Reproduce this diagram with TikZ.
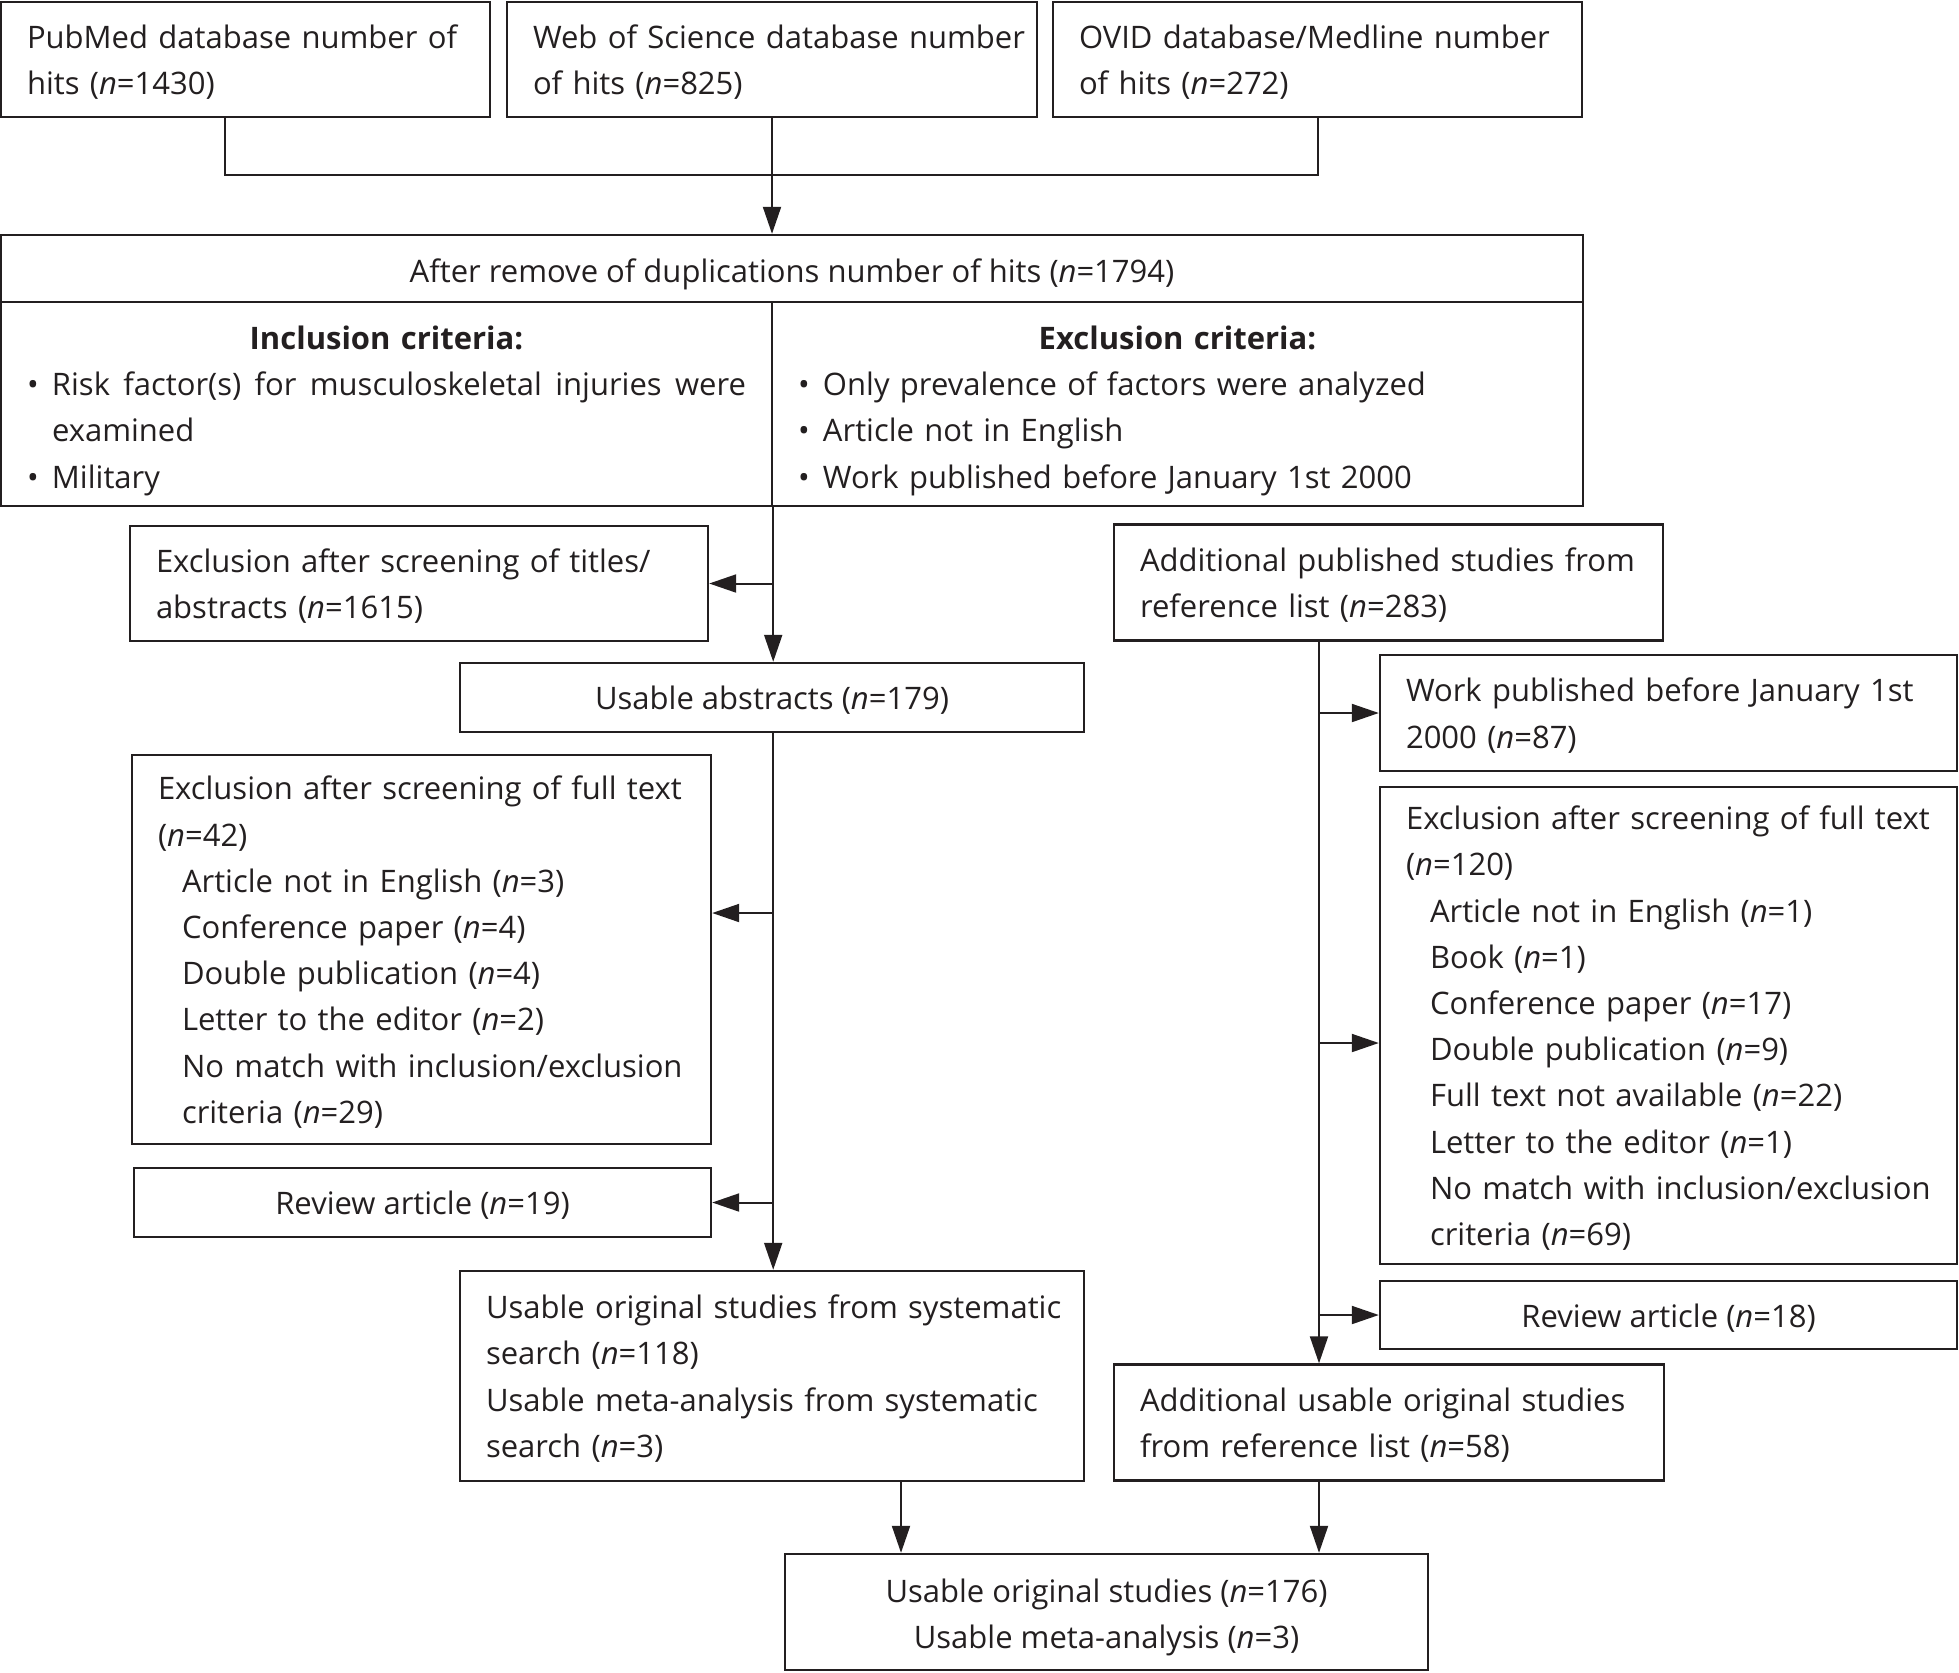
\documentclass[tikz,border=0pt]{standalone}
\usepackage{fontspec}
\setmainfont{Open Sans}
\usetikzlibrary{arrows.meta}
\definecolor{ink}{HTML}{231F20}
\newcommand\nn{\textit{n}}
\newcommand\bul{\makebox[12.5pt][l]{\textbullet}}
\newcommand\ind{\hspace*{12pt}}
\newcommand\tp{\rule{0pt}{14.5pt}}
\begin{document}
\begin{tikzpicture}[x=0.5pt,y=-0.5pt,
  font=\fontsize{15.5}{23.1}\selectfont,
  box/.style={draw=ink, line width=1.2pt, inner xsep=13pt, inner ysep=0pt, align=left, text=ink},
  cbox/.style={draw=ink, line width=1.2pt, inner sep=0pt, align=center, text=ink},
  arr/.style={-{Triangle[length=13.5pt,width=9pt]}, line width=1pt, draw=ink},
  ln/.style={line width=1pt, draw=ink}]
\useasboundingbox (0,0) rectangle (1959,1672);
% top sources
\node[box, minimum width=244.5pt, minimum height=57.5pt, text width=218.5pt] (p1) at (245.5,59.5)
  {\tp\mbox{PubMed database number of}\\\mbox{hits (\nn=1430)}};
\node[box, minimum width=265pt, minimum height=57.5pt, text width=239pt] (p2) at (772,59.5)
  {\tp\mbox{Web of Science database number}\\\mbox{of hits (\nn=825)}};
\node[box, minimum width=264.5pt, minimum height=57.5pt, text width=238.5pt] (p3) at (1317.5,59.5)
  {\tp\mbox{OVID database/Medline number}\\\mbox{of hits (\nn=272)}};
% duplicates box
\node[cbox, minimum width=791pt, minimum height=33.5pt] (title) at (792,268.5)
  {\rule{0pt}{17.5pt}After remove of duplications number of hits (\nn=1794)};
\node[box, minimum width=385.5pt, minimum height=102pt, text width=359.5pt] (incl) at (386.5,404)
  {\rule{0pt}{18.5pt}\makebox[359.5pt][c]{\textbf{Inclusion criteria:}}\\
   \makebox[359.5pt][s]{\bul Risk\hfill factor(s)\hfill for\hfill musculoskeletal\hfill injuries\hfill were}\\
   \hspace*{12.5pt}examined\\
   \bul Military};
\node[box, minimum width=405.5pt, minimum height=102pt, text width=379.5pt] (excl) at (1177.5,404)
  {\rule{0pt}{18.5pt}\makebox[379.5pt][c]{\textbf{Exclusion criteria:}}\\
   \mbox{\bul Only prevalence of factors were analyzed}\\
   \mbox{\bul Article not in English}\\
   \mbox{\bul Work published before January 1st 2000}};
% left column
\node[box, minimum width=289pt, minimum height=57.5pt, text width=263pt] (ex1) at (419,583.5)
  {\tp\mbox{Exclusion after screening of titles/}\\\mbox{abstracts (\nn=1615)}};
\node[cbox, minimum width=312pt, minimum height=34.5pt] (ab) at (772,697.5)
  {\tp Usable abstracts (\nn=179)};
\node[box, minimum width=289.5pt, minimum height=194.5pt, text width=263.5pt] (ex2) at (421.5,949.5)
  {\tp\mbox{Exclusion after screening of full text}\\
   (\nn=42)\\
   \ind\mbox{Article not in English (\nn=3)}\\
   \ind\mbox{Conference paper (\nn=4)}\\
   \ind\mbox{Double publication (\nn=4)}\\
   \ind\mbox{Letter to the editor (\nn=2)}\\
   \ind\mbox{No match with inclusion/exclusion}\\
   \ind\mbox{criteria (\nn=29)}};
\node[cbox, minimum width=288.5pt, minimum height=34.5pt] (rv1) at (422.5,1202.5)
  {\tp Review article (\nn=19)};
\node[box, minimum width=312pt, minimum height=105pt, text width=286pt] (sys) at (772,1376)
  {\tp\mbox{Usable original studies from systematic}\\
   \mbox{search (\nn=118)}\\
   \mbox{Usable meta-analysis from systematic}\\
   \mbox{search (\nn=3)}};
% right column
\node[box, minimum width=274.5pt, minimum height=58pt, text width=248.5pt] (add1) at (1388.5,582.5)
  {\tp\mbox{Additional published studies from}\\\mbox{reference list (\nn=283)}};
\node[box, minimum width=288.5pt, minimum height=58pt, text width=262.5pt] (wp) at (1668.5,713)
  {\tp\mbox{Work published before January 1st}\\\mbox{2000 (\nn=87)}};
\node[box, minimum width=288.5pt, minimum height=238.5pt, text width=262.5pt] (ex3) at (1668.5,1025.5)
  {\tp\mbox{Exclusion after screening of full text}\\
   (\nn=120)\\
   \ind\mbox{Article not in English (\nn=1)}\\
   \ind\mbox{Book (\nn=1)}\\
   \ind\mbox{Conference paper (\nn=17)}\\
   \ind\mbox{Double publication (\nn=9)}\\
   \ind\mbox{Full text not available (\nn=22)}\\
   \ind\mbox{Letter to the editor (\nn=1)}\\
   \ind\mbox{No match with inclusion/exclusion}\\
   \ind\mbox{criteria (\nn=69)}};
\node[cbox, minimum width=288.5pt, minimum height=34pt] (rv2) at (1668.5,1315)
  {\tp Review article (\nn=18)};
\node[box, minimum width=275pt, minimum height=58pt, text width=249pt] (add2) at (1389,1422.5)
  {\tp\mbox{Additional usable original studies}\\\mbox{from reference list (\nn=58)}};
\node[cbox, minimum width=321.5pt, minimum height=58pt] (fin) at (1106.5,1612)
  {\rule{0pt}{17.5pt}Usable original studies (\nn=176)\\Usable meta-analysis (\nn=3)};
% helper coordinates
\coordinate (m) at (772,175);
\coordinate (lx) at (225,0);
\coordinate (e2y) at (0,913);
\coordinate (e3y) at (0,1043);
\coordinate (rx) at (1319,0);
\coordinate (fx) at (901,0);
% connectors
\draw[ln] (lx |- p1.south) |- (m);
\draw[ln] (p3.south) |- (m);
\draw[arr] (p2.south) -- (p2.south |- title.north);
\draw[arr] (incl.south east) -- (incl.south east |- ab.north);
\draw[arr] (incl.south east |- ex1.east) -- (ex1.east);
\draw[arr] (ab.south -| incl.south east) -- (incl.south east |- sys.north);
\draw[arr] (incl.south east |- e2y) -- (ex2.east |- e2y);
\draw[arr] (incl.south east |- rv1.east) -- (rv1.east);
\draw[arr] (rx |- add1.south) -- (rx |- add2.north);
\draw[arr] (rx |- wp.west) -- (wp.west);
\draw[arr] (rx |- e3y) -- (ex3.west |- e3y);
\draw[arr] (rx |- rv2.west) -- (rv2.west);
\draw[arr] (fx |- sys.south) -- (fx |- fin.north);
\draw[arr] (rx |- add2.south) -- (rx |- fin.north);
\end{tikzpicture}
\end{document}
